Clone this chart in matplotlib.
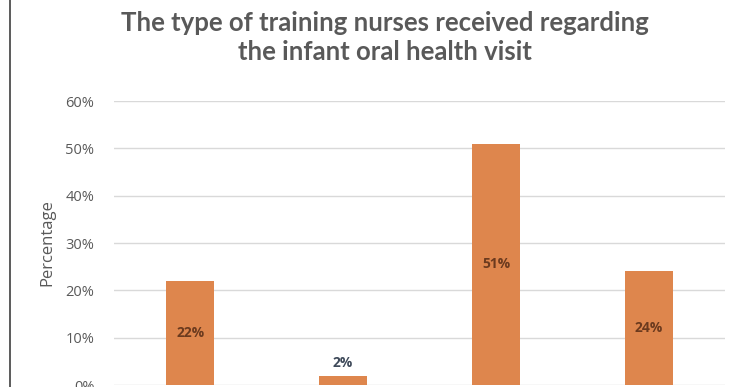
import matplotlib.pyplot as plt
from matplotlib.lines import Line2D

# Training type shares (x tick labels fall below the visible area)
categories = ["A", "B", "C", "D"]
values = [22, 2, 51, 24]
yticks = [0, 10, 20, 30, 40, 50, 60]

bar_color = "#DE864D"
text_gray = "#595959"

fig = plt.figure(figsize=(7.29, 3.87), dpi=100)
ax = fig.add_axes([0.156, 0.005, 0.839, 0.734])

x = range(len(categories))
bars = ax.bar(x, values, width=0.31, color=bar_color, zorder=3)

ax.set_xlim(-0.5, len(categories) - 0.5)
ax.set_ylim(0, 60)
ax.set_yticks(yticks)
ax.set_yticklabels([f"{t}%" for t in yticks], fontsize=10.5, color=text_gray,
                   family="Open Sans")
ax.set_xticks([])
ax.tick_params(axis="y", length=0, pad=14)
ax.yaxis.grid(True, color="#D9D9D9", linewidth=1, zorder=0)
for s in ax.spines.values():
    s.set_visible(False)

ax.set_ylabel("Percentage", fontsize=12, color=text_gray, family="Open Sans",
              labelpad=7)

# value labels: inside the bar when it is tall enough, otherwise above it
for b, v in zip(bars, values):
    cx = b.get_x() + b.get_width() / 2
    if v >= 10:
        ax.text(cx, v / 2, f"{v}%", ha="center", va="center", fontsize=10,
                fontweight="bold", color="#6B3A1E", family="Open Sans", zorder=4)
    else:
        ax.text(cx, v + 1.2, f"{v}%", ha="center", va="bottom", fontsize=10,
                fontweight="bold", color="#3F4A5A", family="Open Sans", zorder=4)

fig.text(0.528, 0.902, "The type of training nurses received regarding\nthe infant oral health visit",
         ha="center", va="center", fontsize=18.5, fontweight="bold", color=text_gray,
         family="Lato", linespacing=1.25)

# left frame line
fig.add_artist(Line2D([0.0137, 0.0137], [0, 1], transform=fig.transFigure,
                      color="#404040", linewidth=1.2))

fig.savefig("out.png", dpi=100)
